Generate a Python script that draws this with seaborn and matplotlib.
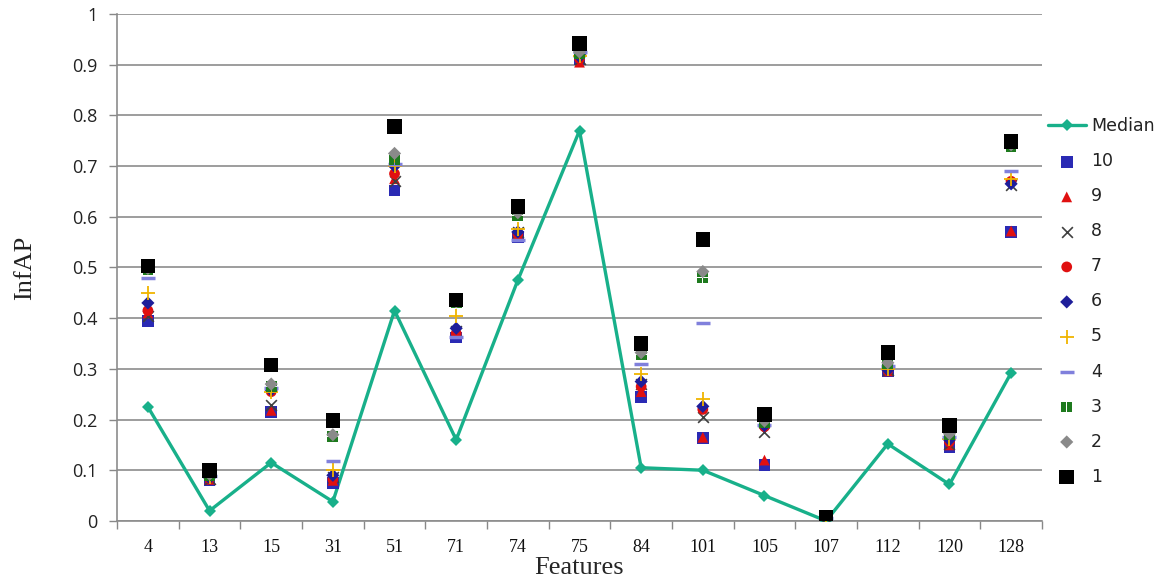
import matplotlib
matplotlib.use("Agg")
import matplotlib.pyplot as plt
from matplotlib.ticker import FixedLocator
from matplotlib.path import Path
import seaborn as sns
import pandas as pd

features = ["4", "13", "15", "31", "51", "71", "74", "75", "84", "101", "105", "107", "112", "120", "128"]

median = [0.225, 0.02, 0.115, 0.038, 0.415, 0.16, 0.475, 0.77, 0.105, 0.10, 0.05, 0.0, 0.152, 0.072, 0.292]

run_1 = [0.503, 0.100, 0.308, 0.198, 0.778, 0.436, 0.620, 0.942, 0.350, 0.555, 0.210, 0.008, 0.332, 0.188, 0.748]
run_2 = [0.498, 0.092, 0.270, 0.170, 0.725, 0.432, 0.608, 0.925, 0.332, 0.492, 0.197, 0.007, 0.312, 0.172, 0.742]
run_3 = [0.495, 0.090, 0.265, 0.166, 0.712, 0.430, 0.602, 0.922, 0.328, 0.480, 0.193, 0.007, 0.310, 0.170, 0.738]
run_4 = [0.480, 0.088, 0.262, 0.118, 0.705, 0.362, 0.555, 0.926, 0.310, 0.390, 0.190, 0.006, 0.305, 0.166, 0.690]
run_5 = [0.450, 0.086, 0.255, 0.100, 0.700, 0.405, 0.575, 0.918, 0.290, 0.240, 0.200, 0.006, 0.300, 0.162, 0.675]
run_6 = [0.430, 0.085, 0.258, 0.090, 0.700, 0.380, 0.570, 0.916, 0.275, 0.226, 0.188, 0.005, 0.298, 0.160, 0.665]
run_7 = [0.415, 0.084, 0.255, 0.082, 0.685, 0.370, 0.566, 0.912, 0.265, 0.220, 0.186, 0.005, 0.297, 0.156, 0.670]
run_8 = [0.405, 0.083, 0.228, 0.086, 0.670, 0.375, 0.570, 0.912, 0.270, 0.205, 0.175, 0.005, 0.297, 0.152, 0.663]
run_9 = [0.410, 0.082, 0.218, 0.080, 0.675, 0.370, 0.565, 0.905, 0.255, 0.165, 0.120, 0.004, 0.296, 0.150, 0.572]
run_10 = [0.395, 0.080, 0.215, 0.075, 0.652, 0.362, 0.560, 0.910, 0.245, 0.163, 0.110, 0.004, 0.295, 0.146, 0.570]

runs = {
    "1": run_1, "2": run_2, "3": run_3, "4": run_4, "5": run_5,
    "6": run_6, "7": run_7, "8": run_8, "9": run_9, "10": run_10,
}

# square split into four tiles by a thin white cross
def _tile(x0, y0, w):
    return Path([(x0, y0), (x0 + w, y0), (x0 + w, y0 + w), (x0, y0 + w), (x0, y0)],
                [Path.MOVETO, Path.LINETO, Path.LINETO, Path.LINETO, Path.CLOSEPOLY])

gap = 0.12
w = 1 - gap / 2
cross_square = Path.make_compound_path(
    _tile(-1, -1, w), _tile(gap / 2, -1, w), _tile(-1, gap / 2, w), _tile(gap / 2, gap / 2, w)
)

styles = {
    "10": dict(marker="s", color="#2a2ab4", s=70),
    "9": dict(marker="^", color="#e01010", s=60),
    "8": dict(marker="x", color="#404040", s=60, linewidths=1.2),
    "7": dict(marker="o", color="#e01010", s=60),
    "6": dict(marker="D", color="#1e1e9a", s=45),
    "5": dict(marker="+", color="#f0b400", s=90, linewidths=1.3),
    "4": dict(marker="_", color="#8080dc", s=110, linewidths=2.5),
    "3": dict(marker=cross_square, color="#1e7a1e", s=60),
    "2": dict(marker="D", color="#8a8a8a", s=45),
    "1": dict(marker="s", color="#000000", s=110),
}

sns.set_theme(style="white")
plt.rcParams["font.family"] = ["DejaVu Sans"]

fig = plt.figure(figsize=(11.59, 5.84), dpi=100)
ax = fig.add_axes([0.101, 0.108, 0.798, 0.868])

pos = list(range(len(features)))
df_med = pd.DataFrame({"x": pos, "y": median})
sns.lineplot(data=df_med, x="x", y="y", ax=ax, color="#18b08a", linewidth=2.4,
             marker="D", markersize=6, markeredgewidth=0, label="Median", zorder=3)

for z, key in enumerate(["10", "9", "8", "7", "6", "5", "4", "3", "2", "1"]):
    st = dict(styles[key])
    df = pd.DataFrame({"x": pos, "y": runs[key]})
    kw = dict(marker=st.pop("marker"), color=st.pop("color"), s=st.pop("s"))
    if isinstance(kw["marker"], str) and kw["marker"] in ("x", "+", "_"):
        kw["linewidths"] = st.pop("linewidths")
    else:
        kw["edgecolor"] = "none"
    sns.scatterplot(data=df, x="x", y="y", ax=ax, label=key, zorder=4 + z * 0.1, **kw)

ax.set_xlim(-0.5, len(features) - 0.5)
ax.set_ylim(0, 1)
ax.set_yticks([i / 10 for i in range(11)])
ax.set_yticklabels(["0"] + [f"0.{i}" for i in range(1, 10)] + ["1"], fontsize=13,
                   color="#222222", family="Open Sans")
ax.set_xticks(pos)
ax.set_xticklabels(features, fontsize=13, family="Liberation Serif", color="#111111")
ax.xaxis.set_minor_locator(FixedLocator([p - 0.5 for p in range(len(features) + 1)]))
ax.tick_params(axis="x", which="major", length=0, pad=13)
ax.tick_params(axis="x", which="minor", length=6, width=1, color="#888888", direction="out", bottom=True)
ax.tick_params(axis="y", which="major", length=6, width=1, color="#888888", direction="out", left=True, pad=8)

ax.grid(axis="y", color="#8c8c8c", linewidth=1.2)
ax.set_axisbelow(True)
for side in ["top", "right"]:
    ax.spines[side].set_visible(False)
for side in ["left", "bottom"]:
    ax.spines[side].set_color("#8c8c8c")
    ax.spines[side].set_linewidth(1.2)

ax.set_xlabel("Features", fontsize=19, family="Liberation Serif", labelpad=1)
ax.set_ylabel("InfAP", fontsize=19, family="Liberation Serif", labelpad=26, color="#222222")

leg = ax.legend(loc="upper left", bbox_to_anchor=(0.993, 0.82), frameon=False,
                fontsize=12.5, labelspacing=0.98, handlelength=2.2, handletextpad=0.3,
                borderaxespad=0.3)
for t in leg.get_texts():
    t.set_color("#222222")

fig.savefig("out.png", dpi=100, facecolor="white")
